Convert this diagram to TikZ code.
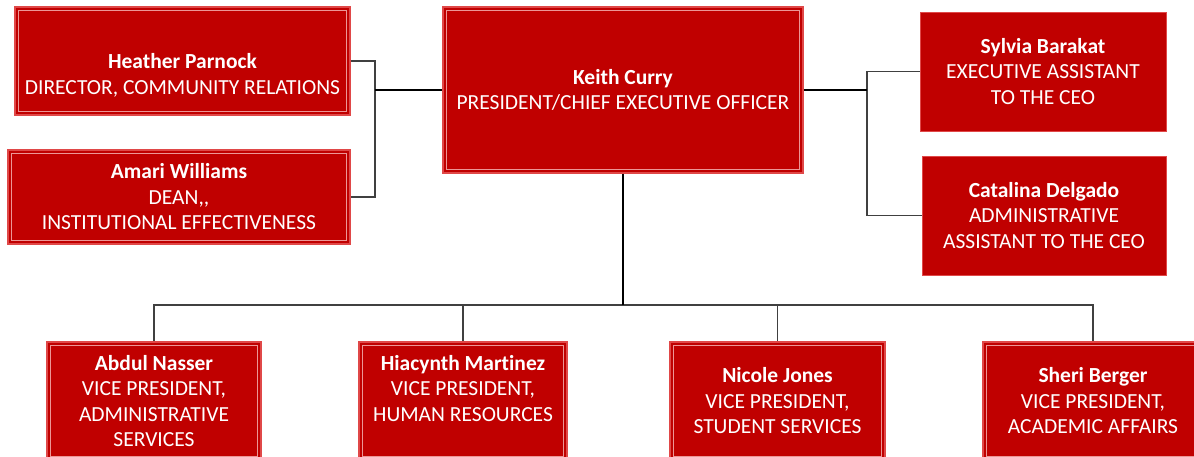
\documentclass[tikz,border=0pt]{standalone}
\usepackage{fontspec}
\setmainfont{Carlito}[Ligatures=NoCommon]
\definecolor{boxred}{RGB}{192,0,0}
\definecolor{boxedge}{RGB}{224,72,72}
\definecolor{boxline}{RGB}{236,150,150}
\definecolor{linkgray}{RGB}{64,64,64}
\begin{document}
\begin{tikzpicture}[x=1pt, y=-1pt,
    box/.style = {draw=boxedge, line width=1.6pt, fill=boxred, text=white, align=center,
                  inner sep=0pt, font=\fontsize{21.5}{25.5}\selectfont},
    plainbox/.style = {box, line width=0.8pt},
    link/.style = {draw=linkgray, line width=1.5pt},
    mainlink/.style = {draw=black, line width=1.5pt}]

      \useasboundingbox (0,0) rectangle (1194,457);

      % top row
      \node[box, minimum width=335pt, minimum height=108pt] (Heather) at (182.5,61)
        {\strut\\\textbf{Heather Parnock}\\DIRECTOR, COMMUNITY RELATIONS};
      \node[box, minimum width=342pt, minimum height=94pt] (Amari) at (179,197)
        {\textbf{Amari Williams}\\DEAN,{},\\INSTITUTIONAL EFFECTIVENESS};
      \node[box, minimum width=360pt, minimum height=166pt] (Keith) at (623,90)
        {\textbf{Keith Curry}\\PRESIDENT/CHIEF EXECUTIVE OFFICER};
      \node[plainbox, minimum width=246pt, minimum height=119pt] (Sylvia) at (1043,71.5)
        {\textbf{Sylvia Barakat}\\EXECUTIVE ASSISTANT\\TO THE CEO};
      \node[plainbox, minimum width=244pt, minimum height=119pt] (Catalina) at (1044,215.5)
        {\textbf{Catalina Delgado}\\ADMINISTRATIVE\\ASSISTANT TO THE CEO};

      % vice presidents
      \node[box, minimum width=214pt, minimum height=118pt] (VP_1) at (154,401)
        {\textbf{Abdul Nasser}\\VICE PRESIDENT,\\ADMINISTRATIVE\\SERVICES};
      \node[box, minimum width=208pt, minimum height=118pt] (VP_2) at (463,401)
        {\textbf{Hiacynth Martinez}\\VICE PRESIDENT,\\HUMAN RESOURCES\\~};
      \node[box, minimum width=215pt, minimum height=118pt] (VP_3) at (777.5,401)
        {\textbf{Nicole Jones}\\VICE PRESIDENT,\\STUDENT SERVICES};
      \node[box, minimum width=220pt, minimum height=118pt] (VP_4) at (1093,401)
        {\textbf{Sheri Berger}\\VICE PRESIDENT,\\ACADEMIC AFFAIRS};

      \foreach \n in {Heather, Amari, Keith, VP_1, VP_2, VP_3, VP_4}
        \draw[boxline, line width=0.8pt] ([xshift=4pt, yshift=-4pt]\n.north west)
          rectangle ([xshift=-4pt, yshift=4pt]\n.south east);

      \coordinate (J_left) at (375,90);
      \coordinate (J_right) at (867,90);
      \coordinate (J_bus) at (623,305);

      \draw[link] (Heather.east) -| (J_left) |- (Amari.east);
      \draw[mainlink] (J_left) -- (Keith.west);

      \draw[link] (Sylvia.west) -| (J_right) |- (Catalina.west);
      \draw[mainlink] (Keith.east) -- (J_right);

      \foreach \i in {1, ..., 4}
        \draw[link] (VP_\i.north) |- (J_bus);
      \draw[mainlink] (Keith.south) -- (J_bus);

      \end{tikzpicture}
\end{document}
